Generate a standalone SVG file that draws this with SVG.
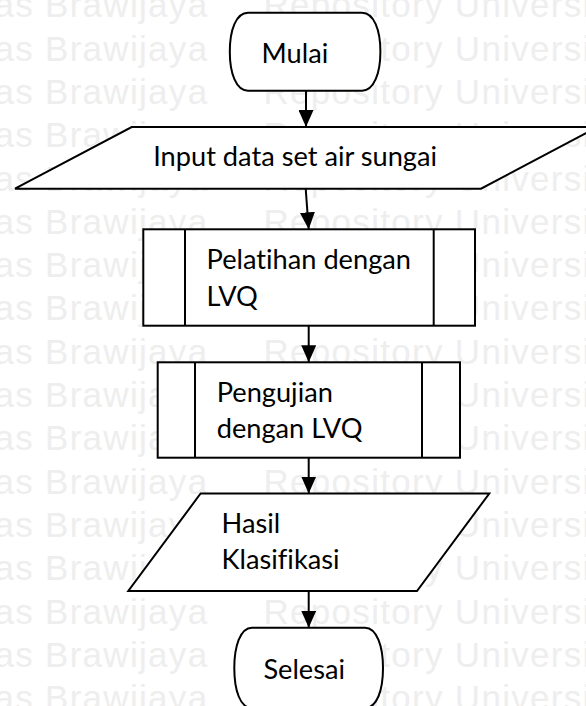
<svg xmlns="http://www.w3.org/2000/svg" width="586" height="706" viewBox="0 0 586 706">
  <defs>
    <style>
      .wm { font-family: "Liberation Sans", Arial, sans-serif; font-size: 35px; letter-spacing: 1.3px; fill: #eeeeee; }
      .shape { fill: #ffffff; stroke: #000000; stroke-width: 2; stroke-linejoin: miter; }
      .label { font-family: Lato, "Open Sans", sans-serif; font-size: 27.2px; fill: #000000; font-variant-ligatures: none; }
      .edge { fill: none; stroke: #000000; stroke-width: 2; marker-end: url(#arrow); }
    </style>
    <marker id="arrow" markerUnits="userSpaceOnUse" markerWidth="17" markerHeight="15" refX="17" refY="7.5" orient="auto">
      <path d="M0,0 L17,7.5 L0,15 Z" fill="#000000"/>
    </marker>
  </defs>

  <rect x="0" y="0" width="586" height="706" fill="#ffffff"/>

  <!-- background watermark rows -->
  <g id="watermark">
    <text class="wm" x="-5.6" y="17.3">as Brawijaya</text><text class="wm" x="263.5" y="17.3">Repository Universi</text>
    <text class="wm" x="-5.6" y="60.6">as Brawijaya</text><text class="wm" x="263.5" y="60.6">Repository Universi</text>
    <text class="wm" x="-5.6" y="103.9">as Brawijaya</text><text class="wm" x="263.5" y="103.9">Repository Universi</text>
    <text class="wm" x="-5.6" y="147.2">as Brawijaya</text><text class="wm" x="263.5" y="147.2">Repository Universi</text>
    <text class="wm" x="-5.6" y="190.5">as Brawijaya</text><text class="wm" x="263.5" y="190.5">Repository Universi</text>
    <text class="wm" x="-5.6" y="233.8">as Brawijaya</text><text class="wm" x="263.5" y="233.8">Repository Universi</text>
    <text class="wm" x="-5.6" y="277.1">as Brawijaya</text><text class="wm" x="263.5" y="277.1">Repository Universi</text>
    <text class="wm" x="-5.6" y="320.4">as Brawijaya</text><text class="wm" x="263.5" y="320.4">Repository Universi</text>
    <text class="wm" x="-5.6" y="363.7">as Brawijaya</text><text class="wm" x="263.5" y="363.7">Repository Universi</text>
    <text class="wm" x="-5.6" y="407">as Brawijaya</text><text class="wm" x="263.5" y="407">Repository Universi</text>
    <text class="wm" x="-5.6" y="450.3">as Brawijaya</text><text class="wm" x="263.5" y="450.3">Repository Universi</text>
    <text class="wm" x="-5.6" y="493.6">as Brawijaya</text><text class="wm" x="263.5" y="493.6">Repository Universi</text>
    <text class="wm" x="-5.6" y="536.9">as Brawijaya</text><text class="wm" x="263.5" y="536.9">Repository Universi</text>
    <text class="wm" x="-5.6" y="580.2">as Brawijaya</text><text class="wm" x="263.5" y="580.2">Repository Universi</text>
    <text class="wm" x="-5.6" y="623.5">as Brawijaya</text><text class="wm" x="263.5" y="623.5">Repository Universi</text>
    <text class="wm" x="-5.6" y="666.8">as Brawijaya</text><text class="wm" x="263.5" y="666.8">Repository Universi</text>
    <text class="wm" x="-5.6" y="710.1">as Brawijaya</text><text class="wm" x="263.5" y="710.1">Repository Universi</text>
  </g>

  <!-- connectors -->
  <g id="connectors">
    <path class="edge" d="M306,90.7 L306,127"/>
    <path class="edge" d="M305.7,188.7 L308.7,229.3"/>
    <path class="edge" d="M308.7,325.7 L308.7,362.3"/>
    <path class="edge" d="M308.7,457.7 L308.7,493.5"/>
    <path class="edge" d="M308.7,591 L308.7,627.7"/>
  </g>

  <!-- start terminator -->
  <g id="mulai">
    <path class="shape" d="M248,12.7 H362 C374,12.7 380.4,30 380.4,51.7 C380.4,73 374,90.7 362,90.7 H248 C236,90.7 229.8,73 229.8,51.7 C229.8,30 236,12.7 248,12.7 Z"/>
    <text class="label" x="261.6" y="63.3">Mulai</text>
  </g>

  <!-- input data -->
  <g id="input-data">
    <path class="shape" d="M131.7,127 L597.6,127 L481,188.7 L15,188.7 Z"/>
    <text class="label" x="153.2" y="165.7">Input data set air sungai</text>
  </g>

  <!-- training subprocess -->
  <g id="pelatihan">
    <rect class="shape" x="143.3" y="229.3" width="331.7" height="96.4"/>
    <line class="shape" x1="185" y1="229.3" x2="185" y2="325.7"/>
    <line class="shape" x1="433.7" y1="229.3" x2="433.7" y2="325.7"/>
    <text class="label" x="206.6" y="269.3">Pelatihan dengan</text>
    <text class="label" x="206.6" y="305.7">LVQ</text>
  </g>

  <!-- testing subprocess -->
  <g id="pengujian">
    <rect class="shape" x="157.7" y="362.3" width="302.3" height="95.4"/>
    <line class="shape" x1="195" y1="362.3" x2="195" y2="457.7"/>
    <line class="shape" x1="422" y1="362.3" x2="422" y2="457.7"/>
    <text class="label" x="216.7" y="401.7">Pengujian</text>
    <text class="label" x="216.7" y="438.3">dengan LVQ</text>
  </g>

  <!-- classification output -->
  <g id="hasil">
    <path class="shape" d="M200.6,493.5 L489.3,493.5 L417,591 L128.3,591 Z"/>
    <text class="label" x="221.6" y="533.3">Hasil</text>
    <text class="label" x="221.6" y="569.3">Klasifikasi</text>
  </g>

  <!-- end terminator -->
  <g id="selesai">
    <path class="shape" d="M252,627.7 H365 C377,627.7 383,647 383,668 C383,690 377,708 365,708 H252 C240,708 234.3,690 234.3,668 C234.3,647 240,627.7 252,627.7 Z"/>
    <text class="label" x="263.4" y="679">Selesai</text>
  </g>
</svg>
